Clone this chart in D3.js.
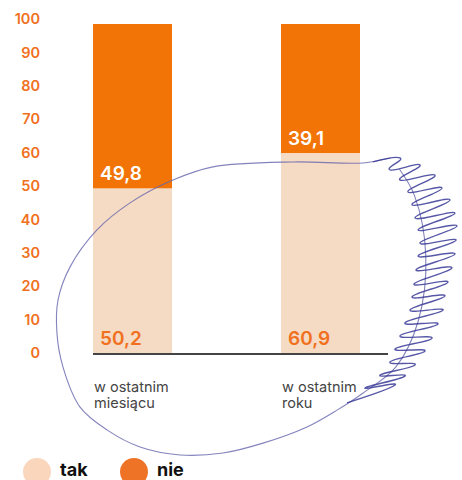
<!DOCTYPE html>
<html><head><meta charset="utf-8">
<script src="https://cdn.jsdelivr.net/npm/d3@7"></script>
<style>html,body{margin:0;padding:0;background:#fff;}svg{display:block;font-family:Inter,"DejaVu Sans",sans-serif;}</style>
</head><body>
<svg id="c" width="462" height="480"></svg>
<script>
// ---- data ----
const categories = [["w ostatnim","miesiącu"],["w ostatnim","roku"]];
const categoryKeys = ["miesiac","rok"];
const takValues = [50.2, 60.9];
const nieValues = [49.8, 39.1];
const seriesNames = ["tak","nie"];
const tickValues = [0,10,20,30,40,50,60,70,80,90,100];
// hand-drawn pen annotation, in chart space (x: offset in category steps from first bar centre, y: value units)
const scribbleLoop = [[1.37,59.4],[1.227,57.9],[0.854,58.2],[0.428,56.7],[0.215,52.7],[-0.013,45.8],[-0.189,37.6],[-0.332,26.4],[-0.396,16.4],[-0.402,6.4],[-0.370,-3.9],[-0.279,-16.1],[-0.136,-23.0],[0.040,-28.2],[0.253,-30.6],[0.481,-30.0],[0.694,-27.0],[0.928,-22.1],[1.088,-17.0],[1.227,-11.8],[1.40,-4],[1.52,10],[1.56,30],[1.50,48],[1.42,56]];
const scribbleZig = [[1.279,58.2],[1.423,59.4],[1.370,55.8],[1.529,57.3],[1.423,52.7],[1.609,54.2],[1.465,49.1],[1.646,50.3],[1.487,45.2],[1.689,46.7],[1.503,41.2],[1.715,42.7],[1.519,37.6],[1.726,38.8],[1.529,33.6],[1.721,34.5],[1.519,29.7],[1.715,30.3],[1.508,25.5],[1.699,26.1],[1.497,21.2],[1.678,21.8],[1.487,17.3],[1.662,17.6],[1.476,13.3],[1.652,13.3],[1.449,9.4],[1.625,9.1],[1.423,5.5],[1.593,4.8],[1.396,1.5],[1.556,0.9],[1.370,-2.4],[1.503,-3.3],[1.316,-6.4],[1.449,-6.7],[1.237,-10.3],[1.396,-9.4],[1.141,-14.8]];

const svg = d3.select("#c");
const orange = "#F27406", light = "#F5DAC4", labelOrange = "#F07020";

const x = d3.scaleBand().domain(categoryKeys).range([93, 360]).paddingInner(0.5798).paddingOuter(0);
const y = d3.scaleLinear().domain([0, 100]).range([354, 24]);
const yTicks = d3.scaleLinear().domain([0, 100]).range([353, 19]);

// tick labels
const yAxis = svg.append("g").attr("transform", "translate(40,0)")
  .call(d3.axisLeft(yTicks).tickValues(tickValues).tickSize(0).tickPadding(0));
yAxis.select(".domain").remove();
yAxis.selectAll("text").attr("fill", labelOrange).attr("font-size", 14.5).attr("font-weight", 600)
  .attr("font-family", "Inter, sans-serif");

// stacked bars
const rows = categoryKeys.map((k, i) => ({key: k, tak: takValues[i], nie: nieValues[i]}));
const stack = d3.stack().keys(seriesNames)(rows);
const colors = {tak: light, nie: orange};
svg.append("g").selectAll("g").data(stack).join("g").attr("fill", d => colors[d.key])
  .selectAll("rect").data(d => d).join("rect")
  .attr("x", d => x(d.data.key)).attr("width", x.bandwidth())
  .attr("y", d => y(d[1])).attr("height", d => y(d[0]) - y(d[1]));

// baseline
svg.append("line").attr("x1", x(categoryKeys[0])).attr("x2", 388)
  .attr("y1", y(0)).attr("y2", y(0)).attr("stroke", "#444").attr("stroke-width", 2.2);

// value labels
const fmt = v => String(v).replace(".", ",");
svg.append("g").selectAll("text").data(rows).join("text")
  .attr("x", d => x(d.key) + 7).attr("y", d => y(d.tak) - 8)
  .attr("fill", "#fff").attr("font-size", 19).attr("font-weight", 600).text(d => fmt(d.nie));
svg.append("g").selectAll("text").data(rows).join("text")
  .attr("x", d => x(d.key) + 7).attr("y", y(0) - 9)
  .attr("fill", labelOrange).attr("font-size", 19).attr("font-weight", 600).text(d => fmt(d.tak));

// category labels
const cat = svg.append("g").selectAll("text").data(categoryKeys).join("text")
  .attr("x", d => x(d) + 1).attr("y", 392).attr("fill", "#444").attr("font-size", 14.5);
cat.selectAll("tspan").data((d, i) => categories[i]).join("tspan")
  .attr("x", function(){ return d3.select(this.parentNode).attr("x"); })
  .attr("dy", (d, i) => i === 0 ? 0 : 16).text(d => d);

// legend
const leg = svg.append("g").selectAll("g").data(seriesNames).join("g")
  .attr("transform", (d, i) => `translate(${37 + i * 97},472)`);
leg.append("circle").attr("r", 14).attr("fill", d => d === "tak" ? "#FAD6BC" : "#EE7326");
leg.append("text").attr("x", 23).attr("y", 4).attr("font-size", 18).attr("font-weight", 700)
  .attr("fill", "#111").text(d => d);

// hand-drawn pen annotation
const step = x.step();
const sx = v => x(categoryKeys[0]) + x.bandwidth() / 2 + v * step;
const line = d3.line().x(d => sx(d[0])).y(d => y(d[1]));
svg.append("path").attr("d", line.curve(d3.curveCatmullRom)(scribbleLoop))
  .attr("fill", "none").attr("stroke", "#6464ad").attr("stroke-width", 1.1).attr("opacity", 0.8);
svg.append("path").attr("d", line.curve(d3.curveCardinal.tension(-0.7))(scribbleZig))
  .attr("fill", "none").attr("stroke", "#3a3a98").attr("stroke-width", 1.4).attr("opacity", 0.85);
</script>
</body></html>
